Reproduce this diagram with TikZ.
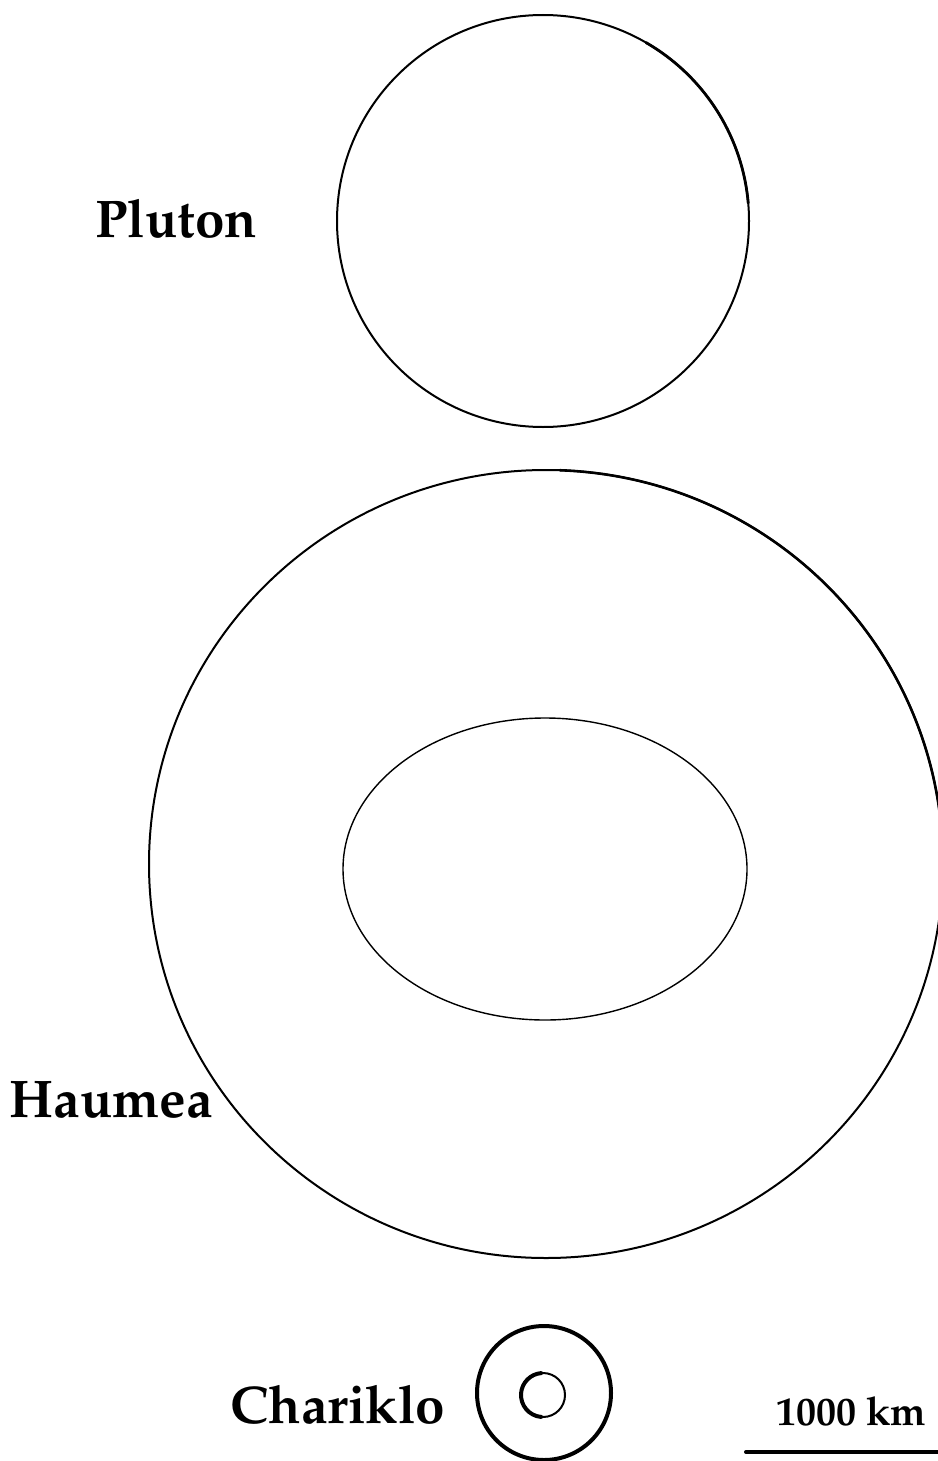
\documentclass[tikz,border=0pt]{standalone}
\usepackage[T1]{fontenc}
\renewcommand{\rmdefault}{ppl}
\usepackage{tikz}

\begin{document}
\begin{tikzpicture}[x=0.5pt, y=-0.5pt, line cap=round,
  body/.style={draw, line width=1pt},
  lbl/.style={font=\fontsize{26.5}{30}\selectfont\bfseries, anchor=base, inner sep=0pt},
  scalelbl/.style={font=\fontsize{20}{24}\selectfont\bfseries, anchor=base, inner sep=0pt}]
\useasboundingbox (0,0) rectangle (937,1461);

% Pluton
\draw[body] (543,221) circle [radius=206];
\draw[line width=1.4pt] (543,221) ++(-5:206) arc[start angle=-5, end angle=-60, radius=206];
\node[lbl] (pluton) at (176,237) {Pluton};

% Haumea, outer and inner
\draw[body] (546,864) ellipse [x radius=397, y radius=394];
\draw[line width=1.3pt] (546,864) ++(0:397 and 394) arc[start angle=0, end angle=-88, x radius=397, y radius=394];
\draw[line width=0.7pt] (545,869) ellipse [x radius=202, y radius=151];
\node[lbl] (haumea) at (111,1117) {Haumea};

% Chariklo
\draw[line width=2pt] (544,1393) circle [radius=67];
\draw[line width=1pt] (543,1395) circle [radius=22];
\draw[line width=2pt] (543,1395) ++(95:22) arc[start angle=95, end angle=265, radius=22];
\node[lbl] (chariklo) at (338,1423) {Chariklo};

% echelle
\coordinate (barl) at (746,1452);
\coordinate (barr) at (940,1452);
\draw[line width=2pt] (barl) -- (barr);
\node[scalelbl] (echelle) at (851,1425) {1000 km};
\end{tikzpicture}
\end{document}
